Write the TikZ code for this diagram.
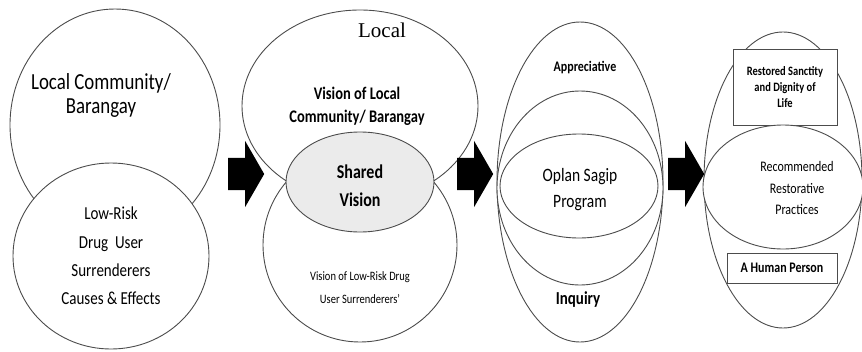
\documentclass[tikz,border=0pt]{standalone}
\usepackage{fontspec}
\setmainfont{Carlito}[FakeStretch=0.82]
\newfontfamily\timesfont{Liberation Serif}
\usetikzlibrary{positioning,shapes.geometric,shapes.arrows}

\begin{document}
\begin{tikzpicture}[x=1pt, y=-1pt,
		ring/.style={ellipse, draw=black!70, line width=0.9pt, fill=white, inner sep=0pt},
		box/.style={rectangle, draw=black!70, line width=0.9pt, fill=white, inner sep=0pt, align=center},
		txt/.style={align=center, inner sep=0pt},
		bigarrow/.style={single arrow, fill=black, inner xsep=0pt, inner ysep=16pt,
				minimum height=36pt, single arrow head extend=17pt, single arrow tip angle=120, anchor=tail}
	]

	\useasboundingbox (0,0) rectangle (862,351);

	% community and surrenderers
	\node[ring, minimum width=210, minimum height=232] (comm) at (115,125) {};
	\node[ring, minimum width=196, minimum height=186] (drug) at (111,256) {};
	\node[txt, font=\fontsize{23}{24}\selectfont] (comm-txt) at (101,95) {Local Community/\\Barangay};
	\node[txt, font=\fontsize{18.3}{28.3}\selectfont] (drug-txt) at (111,256) {Low-Risk\\Drug\ \ User\\Surrenderers\\Causes \& Effects};

	% shared vision
	\node[ring, minimum width=236, minimum height=192] (loc-vis) at (360,106) {};
	\node[ring, minimum width=194, minimum height=194] (drug-vis) at (360,245) {};
	\node[ring, fill=black!8, minimum width=148, minimum height=100] (shared) at (360,182) {};
	\node[txt, font=\timesfont\fontsize{21}{24}\selectfont] (local) at (382,30) {Local};
	\node[txt, font=\bfseries\fontsize{17.7}{23}\selectfont] (loc-vis-txt) at (357,106) {Vision of Local\\Community/ Barangay};
	\node[txt, font=\bfseries\fontsize{19.5}{28}\selectfont] (shared-txt) at (360,186) {Shared\\Vision};
	\node[txt, font=\fontsize{12.8}{23}\selectfont] (drug-vis-txt) at (360,288) {Vision of Low-Risk Drug\\User Surrenderers'};

	% appreciative inquiry
	\node[ring, minimum width=166, minimum height=320] (ai-out) at (580,182) {};
	\node[ring, minimum width=166, minimum height=194] (ai-mid) at (580,188) {};
	\node[ring, minimum width=158, minimum height=104] (oplan) at (579,186) {};
	\node[txt, font=\bfseries\fontsize{14.6}{16}\selectfont] (appr) at (585,68) {Appreciative};
	\node[txt, font=\bfseries\fontsize{18.3}{20}\selectfont] (inq) at (578,300) {Inquiry};
	\node[txt, font=\fontsize{18.9}{26}\selectfont] (oplan-txt) at (580,190) {Oplan Sagip\\Program};

	% restorative practices
	\node[ring, minimum width=158, minimum height=296] (rp-out) at (783,180) {};
	\node[box, minimum width=104, minimum height=76, font=\bfseries\fontsize{12.8}{16}\selectfont] (sanct) at (785,87) {Restored Sanctity\\and Dignity of\\Life};
	\node[ring, minimum width=160, minimum height=124] (rp-mid) at (783,187) {};
	\node[box, minimum width=110, minimum height=30, font=\bfseries\fontsize{14.6}{16}\selectfont] (person) at (782,268) {A Human Person};
	\node[txt, font=\fontsize{14.6}{21.5}\selectfont] (rp-txt) at (797,188) {Recommended\\Restorative\\Practices};

	% arrows
	\foreach \i/\x in {1/228, 2/457, 3/668} {
			\node[bigarrow] (arr-\i) at (\x,174) {};
		}

\end{tikzpicture}
\end{document}
